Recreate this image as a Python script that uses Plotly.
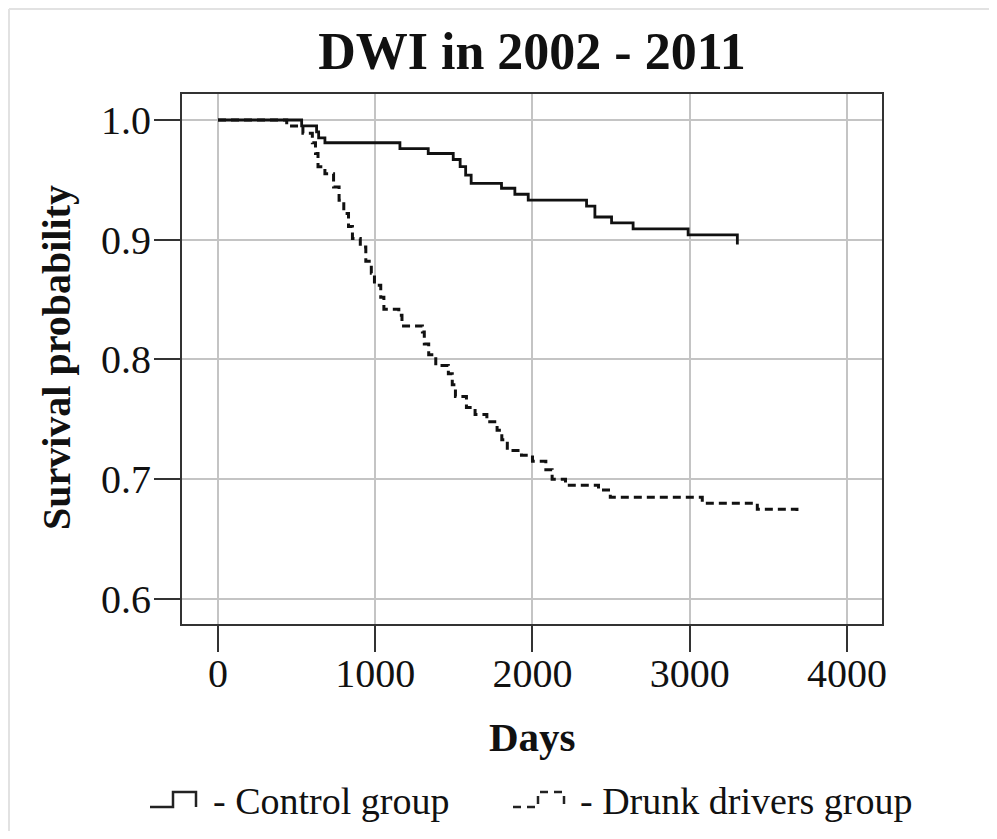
import plotly.graph_objects as go

# ---------------- data ----------------
control_days = [0, 532, 627, 640, 680, 1157, 1337, 1496, 1540, 1575, 1610, 1803, 1888,
                1973, 2344, 2397, 2503, 2640, 2990, 3303]
control_surv = [1.000, 0.995, 0.990, 0.985, 0.981, 0.976, 0.972, 0.967, 0.961, 0.954,
                0.947, 0.943, 0.938, 0.933, 0.928, 0.919, 0.914, 0.909, 0.904, 0.896]

drunk_days = [0, 437, 540, 600, 620, 636, 680, 735, 770, 800, 830, 855, 905, 940, 975,
              995, 1035, 1055, 1150, 1170, 1300, 1312, 1340, 1385, 1465, 1490, 1510,
              1580, 1635, 1710, 1775, 1805, 1840, 1930, 2000, 2085, 2125, 2210, 2420,
              2495, 3080, 3430, 3682, 3686]
drunk_surv = [1.000, 0.995, 0.989, 0.981, 0.972, 0.961, 0.955, 0.944, 0.933, 0.922,
              0.911, 0.901, 0.894, 0.882, 0.872, 0.862, 0.852, 0.842, 0.837, 0.828,
              0.823, 0.813, 0.804, 0.795, 0.788, 0.779, 0.769, 0.760, 0.754, 0.748,
              0.741, 0.733, 0.724, 0.720, 0.715, 0.708, 0.700, 0.695, 0.691, 0.685,
              0.680, 0.675, 0.670, 0.670]

x_ticks = [0, 1000, 2000, 3000, 4000]
y_ticks = [0.6, 0.7, 0.8, 0.9, 1.0]
y_tick_labels = ["0.6", "0.7", "0.8", "0.9", "1.0"]

title_text = "DWI in 2002 - 2011"
x_title = "Days"
y_title = "Survival probability"
legend_labels = ["- Control group", "- Drunk drivers group"]

# ---------------- figure ----------------
# the page body has an 8px margin, so work in page coordinates and offset by 8
OFF = 8
W, H = 997 - 2 * OFF, 839 - 2 * OFF
L, R, T, B = 182 - OFF, 882 - OFF, 94 - OFF, 624 - OFF
FONT = "Liberation Serif, Times New Roman, serif"


def px(x):
    return (x - OFF - L) / (R - L)


def py(y):
    return (B - (y - OFF)) / (B - T)


fig = go.Figure()
fig.add_trace(go.Scatter(x=control_days, y=control_surv, mode="lines",
                         line=dict(color="#111111", width=2.8, shape="hv"),
                         showlegend=False))
fig.add_trace(go.Scatter(x=drunk_days, y=drunk_surv, mode="lines",
                         line=dict(color="#111111", width=3, shape="hv", dash="8px,5px"),
                         showlegend=False))

axis_common = dict(showline=True, linecolor="#333333", linewidth=2, mirror=True,
                   showgrid=True, gridcolor="#c4c4c4", gridwidth=1.5,
                   ticks="outside", ticklen=26, tickwidth=2, tickcolor="#333333",
                   tickfont=dict(family=FONT, size=40, color="#111111"),
                   zeroline=False)

fig.update_layout(
    width=W, height=H,
    margin=dict(l=L, r=W - R, t=T, b=H - B),
    paper_bgcolor="white", plot_bgcolor="white",
    title=dict(text="<b>" + title_text + "</b>", x=0.5, xref="paper",
               y=1 - (51 - OFF) / H, yref="container", yanchor="middle",
               font=dict(family=FONT, size=52, color="#111111")),
    xaxis=dict(range=[-229, 4223], tickvals=x_ticks, ticklabelstandoff=-13,
               ticktext=[str(v) for v in x_ticks], **axis_common),
    yaxis=dict(range=[0.5791, 1.0217], tickvals=y_ticks, ticklabelstandoff=-5,
               ticktext=y_tick_labels, **axis_common),
)

annotations = [
    dict(text="<b>" + x_title + "</b>", x=0.5, y=py(737), xref="paper", yref="paper",
         showarrow=False, font=dict(family=FONT, size=41, color="#111111"),
         xanchor="center", yanchor="middle"),
    dict(text="<b>" + y_title + "</b>", x=px(56), y=py(358), xref="paper", yref="paper",
         showarrow=False, textangle=-90, font=dict(family=FONT, size=40, color="#111111"),
         xanchor="center", yanchor="middle"),
    dict(text=legend_labels[0], x=px(211), y=py(801), xref="paper", yref="paper",
         showarrow=False, font=dict(family=FONT, size=38, color="#111111"),
         xanchor="left", yanchor="middle"),
    dict(text=legend_labels[1], x=px(578), y=py(801), xref="paper", yref="paper",
         showarrow=False, font=dict(family=FONT, size=38, color="#111111"),
         xanchor="left", yanchor="middle"),
]
fig.update_layout(annotations=annotations)


def glyph_path(x0, xm, x1, ylo, yhi):
    return (f"M {px(x0)},{py(ylo)} L {px(xm)},{py(ylo)} L {px(xm)},{py(yhi)} "
            f"L {px(x1)},{py(yhi)} L {px(x1)},{py(ylo)}")


shapes = [
    dict(type="path", xref="paper", yref="paper",
         path=glyph_path(150, 173, 196, 807, 792),
         line=dict(color="#222222", width=2.5)),
    dict(type="path", xref="paper", yref="paper",
         path=glyph_path(513, 538, 564, 807, 792),
         line=dict(color="#222222", width=2.5, dash="8px,6px")),
    # faint outer border of the original image
    dict(type="line", xref="paper", yref="paper", x0=px(9), x1=px(997), y0=py(9), y1=py(9),
         line=dict(color="#e2e2e2", width=2)),
    dict(type="line", xref="paper", yref="paper", x0=px(9), x1=px(9), y0=py(9), y1=py(839),
         line=dict(color="#e2e2e2", width=2)),
]
fig.update_layout(shapes=shapes)

fig.write_html("out.html")
